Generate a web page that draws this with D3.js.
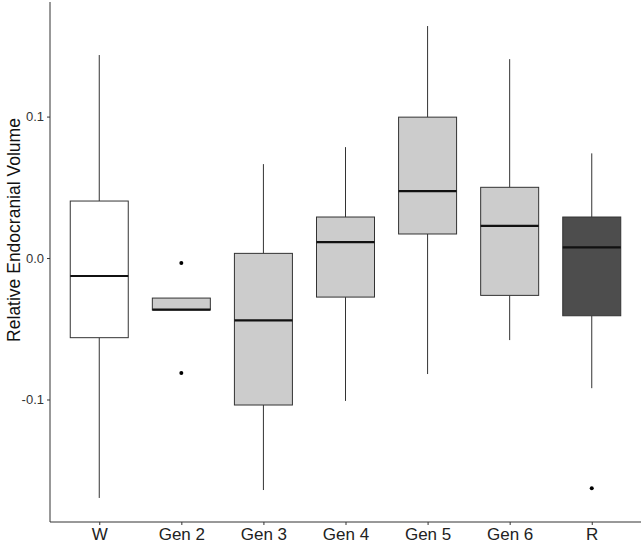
<!DOCTYPE html>
<html><head><meta charset="utf-8">
<script src="https://cdn.jsdelivr.net/npm/d3@7"></script>
<style>body{margin:0;background:#fff}svg{display:block}text{font-family:"Liberation Sans",Arial,sans-serif}</style>
</head><body><svg id="c" width="644" height="543"></svg>
<script>
const categories = ["W","Gen 2","Gen 3","Gen 4","Gen 5","Gen 6","R"];
const whiskerLow  = [-0.1696,-0.0367,-0.164,-0.101,-0.082,-0.058,-0.092];
const q1          = [-0.0563,-0.0367,-0.1039,-0.0276,0.017,-0.0264,-0.0408];
const medians     = [-0.0127,-0.0365,-0.044,0.0113,0.0473,0.0228,0.0076];
const q3          = [0.0403,-0.0283,0.0033,0.029,0.0996,0.050,0.029];
const whiskerHigh = [0.1435,-0.0283,0.0664,0.0784,0.164,0.1406,0.074];
const outliers    = [[],[-0.0035,-0.0813],[],[],[],[],[-0.1628]];
const fills       = ["#ffffff","#cccccc","#cccccc","#cccccc","#cccccc","#cccccc","#4d4d4d"];
const yTicks = [-0.1,0.0,0.1];
const yTickLabels = ["-0.1","0.0","0.1"];
const yTitle = "Relative Endocranial Volume";

(function(){
const svg = d3.select("#c");
const mL=50, mR=641, mT=2, mB=522;
const x = d3.scalePoint().domain(categories).range([mL,mR]).padding(0.6);
const y = d3.scaleLinear().domain([-0.1866,0.181]).range([mB,mT]);
const bw = 58;

const g = svg.append("g");
categories.forEach((c,i)=>{
  const cx = x(c);
  g.append("line").attr("x1",cx).attr("x2",cx).attr("y1",y(whiskerHigh[i])).attr("y2",y(q3[i])).attr("stroke","#333").attr("stroke-width",1);
  g.append("line").attr("x1",cx).attr("x2",cx).attr("y1",y(q1[i])).attr("y2",y(whiskerLow[i])).attr("stroke","#333").attr("stroke-width",1);
  g.append("rect").attr("x",cx-bw/2).attr("y",y(q3[i])).attr("width",bw).attr("height",Math.max(0,y(q1[i])-y(q3[i])))
    .attr("fill",fills[i]).attr("stroke","#333").attr("stroke-width",1);
  g.append("line").attr("x1",cx-bw/2).attr("x2",cx+bw/2).attr("y1",y(medians[i])).attr("y2",y(medians[i])).attr("stroke","#111").attr("stroke-width",2.2);
  outliers[i].forEach(o=>{
    g.append("circle").attr("cx",cx).attr("cy",y(o)).attr("r",2).attr("fill","#000");
  });
});

const ya = svg.append("g").attr("transform",`translate(${mL},0)`)
  .call(d3.axisLeft(y).tickValues(yTicks).tickFormat((d,i)=>yTickLabels[i]).tickSize(3).tickPadding(3));
ya.select(".domain").attr("d",`M0,${mT}V${mB}`).attr("stroke","#333");
ya.selectAll(".tick line").attr("stroke","#333");
ya.selectAll(".tick text").attr("fill","#333").style("font-size","13px");

const xa = svg.append("g").attr("transform",`translate(0,${mB})`)
  .call(d3.axisBottom(x).tickSize(3).tickPadding(3));
xa.select(".domain").attr("d",`M${mL},0H${mR}`).attr("stroke","#333");
xa.selectAll(".tick line").attr("stroke","#333");
xa.selectAll(".tick text").attr("fill","#222").style("font-size","17px");

svg.append("text").attr("transform",`translate(20,230) rotate(-90)`).attr("text-anchor","middle")
  .style("font-size","17.5px").attr("fill","#111").text(yTitle);
})();
</script></body></html>
